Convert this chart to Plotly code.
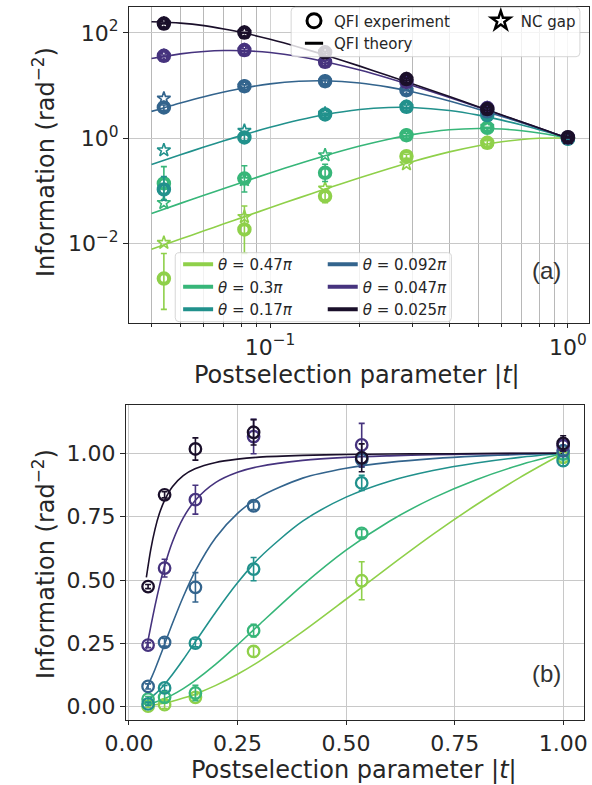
import plotly.graph_objects as go

W, H = 592, 785

# ---------------- data ----------------
theta_labels = ["0.47", "0.3", "0.17", "0.092", "0.047", "0.025"]

# theory curves, sampled along |t|
t_theory = [0.04, 0.05, 0.06, 0.07, 0.0817, 0.1, 0.125, 0.152, 0.2, 0.25,
            0.3, 0.4, 0.5, 0.6, 0.7, 0.8, 0.9, 1.0]

# panel (a): postselected QFI (theory)
qfi_th_047 = [0.00777, 0.0121, 0.0174, 0.0236, 0.0320, 0.0476, 0.0734, 0.107, 0.177, 0.263,
              0.357, 0.548, 0.719, 0.852, 0.943, 0.992, 1.009, 1.0]
qfi_th_03 = [0.0372, 0.0577, 0.0824, 0.111, 0.149, 0.218, 0.327, 0.459, 0.707, 0.956,
             1.168, 1.442, 1.527, 1.488, 1.384, 1.255, 1.123, 1.0]
qfi_th_017 = [0.316, 0.483, 0.676, 0.890, 1.161, 1.605, 2.206, 2.782, 3.504, 3.828,
              3.827, 3.352, 2.737, 2.199, 1.774, 1.447, 1.195, 1.0]
qfi_th_0092 = [3.22, 4.65, 6.12, 7.51, 8.97, 10.73, 12.03, 12.29, 11.14, 9.31,
               7.59, 5.08, 3.55, 2.58, 1.96, 1.53, 1.22, 1.0]
qfi_th_0047 = [32.4, 39.8, 44.2, 46.1, 45.7, 42.2, 35.5, 28.6, 19.6, 13.7,
               9.98, 5.91, 3.87, 2.73, 2.02, 1.55, 1.23, 1.0]
qfi_th_0025 = [162, 153, 137, 118, 99.1, 75.3, 53.2, 38.2, 23.3, 15.3,
               10.8, 6.15, 3.96, 2.76, 2.03, 1.56, 1.23, 1.0]

# panel (b): information per trial (theory)
info_th_047 = [0.0035, 0.0055, 0.0079, 0.0108, 0.0146, 0.0218, 0.0339, 0.0496, 0.0842, 0.128,
               0.179, 0.296, 0.424, 0.554, 0.680, 0.797, 0.904, 1.0]
info_th_03 = [0.0077, 0.0120, 0.0172, 0.0233, 0.0316, 0.0467, 0.0715, 0.103, 0.168, 0.244,
              0.324, 0.480, 0.618, 0.732, 0.823, 0.896, 0.954, 1.0]
info_th_017 = [0.0225, 0.0347, 0.0493, 0.0661, 0.0880, 0.127, 0.186, 0.254, 0.374, 0.489,
               0.587, 0.732, 0.827, 0.890, 0.932, 0.962, 0.984, 1.0]
info_th_0092 = [0.0717, 0.108, 0.148, 0.192, 0.245, 0.328, 0.434, 0.533, 0.668, 0.763,
                0.827, 0.902, 0.941, 0.964, 0.979, 0.989, 0.995, 1.0]
info_th_0047 = [0.228, 0.315, 0.399, 0.475, 0.553, 0.650, 0.745, 0.813, 0.885, 0.925,
                0.948, 0.972, 0.984, 0.990, 0.994, 0.997, 0.999, 1.0]
info_th_0025 = [0.510, 0.619, 0.701, 0.762, 0.813, 0.868, 0.912, 0.939, 0.964, 0.977,
                0.985, 0.992, 0.995, 0.997, 0.998, 0.999, 1.0, 1.0]

# experiment
t_exp = [0.044, 0.082, 0.153, 0.287, 0.536, 1.0]

qfi_exp_047 = [0.00216, 0.0185, 0.0793, 0.455, 0.815, 0.99]
qfi_up_047 = [0.0043, 0.033, 0.02, 0.04, 0.12, 0.02]
qfi_dn_047 = [0.0016, 0.012, 0.02, 0.04, 0.12, 0.02]
qfi_exp_03 = [0.138, 0.171, 0.220, 1.14, 1.574, 1.0]
qfi_up_03 = [0.15, 0.128, 0.10, 0.09, 0.035, 0.02]
qfi_dn_03 = [0.07, 0.076, 0.07, 0.09, 0.035, 0.02]
qfi_exp_017 = [0.106, 1.03, 2.82, 3.94, 2.74, 0.97]
qfi_up_017 = [0.08, 0.13, 0.16, 0.31, 0.09, 0.02]
qfi_dn_017 = [0.04, 0.13, 0.16, 0.31, 0.09, 0.02]
qfi_exp_0092 = [3.82, 9.70, 12.08, 8.15, 3.24, 1.01]
qfi_err_0092 = [0.44, 0.55, 1.33, 0.15, 0.1, 0.02]
qfi_exp_0047 = [36.6, 46.9, 28.1, 11.7, 3.73, 1.03]
qfi_err_0047 = [1.4, 2.9, 2.0, 0.78, 0.29, 0.02]
qfi_exp_0025 = [150, 101, 42.7, 13.2, 3.56, 1.04]
qfi_err_0025 = [2.3, 1.5, 1.8, 0.6, 0.19, 0.03]

nc_gap_047 = [0.0103, 0.032, 0.111, 0.321, 0.815, 1.0]
nc_gap_03 = [0.059, 0.16, 0.475, 1.14, 1.64, 1.0]
nc_gap_017 = [0.59, 1.38, 2.94, 3.94, 2.74, 1.0]
nc_gap_0092 = [5.66, 9.70, 12.08, 8.15, 3.24, 1.0]
nc_gap_0047 = [36.6, 46.9, 28.1, 11.7, 3.73, 1.0]
nc_gap_0025 = [150, 101, 42.7, 13.2, 3.56, 1.0]

info_exp_047 = [0.002, 0.008, 0.037, 0.218, 0.497, 0.984]
info_err_047 = [0.005, 0.015, 0.01, 0.02, 0.075, 0.02]
info_exp_03 = [0.030, 0.037, 0.054, 0.300, 0.684, 0.997]
info_err_03 = [0.01, 0.02, 0.03, 0.025, 0.015, 0.02]
info_exp_017 = [0.011, 0.074, 0.251, 0.543, 0.883, 0.971]
info_err_017 = [0.006, 0.01, 0.015, 0.046, 0.03, 0.02]
info_exp_0092 = [0.080, 0.254, 0.471, 0.793, 0.975, 1.01]
info_err_0092 = [0.01, 0.015, 0.058, 0.015, 0.03, 0.02]
info_exp_0047 = [0.243, 0.547, 0.817, 1.066, 1.033, 1.03]
info_err_0047 = [0.01, 0.035, 0.057, 0.068, 0.085, 0.02]
info_exp_0025 = [0.474, 0.836, 1.017, 1.083, 0.982, 1.039]
info_err_0025 = [0.008, 0.012, 0.044, 0.05, 0.055, 0.03]

# ---------------- styles ----------------
colors = ["#8fd04a", "#37b679", "#21918c", "#33648d", "#46337e", "#1a0f2a"]
FONT = "DejaVu Sans"
TXT = "#262626"

qfi_th = [qfi_th_047, qfi_th_03, qfi_th_017, qfi_th_0092, qfi_th_0047, qfi_th_0025]
info_th = [info_th_047, info_th_03, info_th_017, info_th_0092, info_th_0047, info_th_0025]
qfi_exp = [qfi_exp_047, qfi_exp_03, qfi_exp_017, qfi_exp_0092, qfi_exp_0047, qfi_exp_0025]
qfi_up = [qfi_up_047, qfi_up_03, qfi_up_017, qfi_err_0092, qfi_err_0047, qfi_err_0025]
qfi_dn = [qfi_dn_047, qfi_dn_03, qfi_dn_017, qfi_err_0092, qfi_err_0047, qfi_err_0025]
nc_gap = [nc_gap_047, nc_gap_03, nc_gap_017, nc_gap_0092, nc_gap_0047, nc_gap_0025]
info_exp = [info_exp_047, info_exp_03, info_exp_017, info_exp_0092, info_exp_0047, info_exp_0025]
info_err = [info_err_047, info_err_03, info_err_017, info_err_0092, info_err_0047, info_err_0025]

fig = go.Figure()

for i in range(6):
    c = colors[i]
    fig.add_trace(go.Scatter(x=t_theory, y=qfi_th[i], mode="lines", xaxis="x", yaxis="y",
                             line=dict(color=c, width=1.6, shape="spline", smoothing=0.8),
                             showlegend=False, hoverinfo="skip"))
    fig.add_trace(go.Scatter(x=t_theory, y=info_th[i], mode="lines", xaxis="x2", yaxis="y2",
                             line=dict(color=c, width=1.6, shape="spline", smoothing=0.8),
                             showlegend=False, hoverinfo="skip"))

for i in range(6):
    c = colors[i]
    fig.add_trace(go.Scatter(
        x=t_exp, y=nc_gap[i], mode="markers", xaxis="x", yaxis="y",
        marker=dict(symbol="star-open", size=10, color=c, line=dict(width=1.6, color=c)),
        showlegend=False))
    fig.add_trace(go.Scatter(
        x=t_exp, y=qfi_exp[i], mode="markers", xaxis="x", yaxis="y",
        marker=dict(symbol="circle-open", size=10.5, color=c, line=dict(width=4, color=c)),
        error_y=dict(type="data", array=qfi_up[i], arrayminus=qfi_dn[i], symmetric=False,
                     color=c, thickness=1.6, width=3),
        showlegend=False))
    fig.add_trace(go.Scatter(
        x=t_exp, y=info_exp[i], mode="markers", xaxis="x2", yaxis="y2",
        marker=dict(symbol="circle-open", size=11.5, color=c, line=dict(width=2.3, color=c)),
        error_y=dict(type="data", array=info_err[i], color=c, thickness=1.6, width=3),
        showlegend=False))

# legend-only entries
for i in range(6):
    fig.add_trace(go.Scatter(x=[None], y=[None], mode="lines", xaxis="x", yaxis="y",
                             line=dict(color=colors[i], width=4),
                             name=f"<i>θ</i> = {theta_labels[i]}<i>π</i>",
                             legend="legend" if i < 3 else "legend2"))
fig.add_trace(go.Scatter(x=[None], y=[None], mode="markers", xaxis="x", yaxis="y",
                         marker=dict(symbol="circle-open", size=14, color="black", line=dict(width=3)),
                         name="QFI experiment", legend="legend3"))
fig.add_trace(go.Scatter(x=[None], y=[None], mode="markers", xaxis="x", yaxis="y",
                         marker=dict(symbol="line-ew", size=13, color="black",
                                     line=dict(width=3, color="black")),
                         name="QFI theory", legend="legend3"))
fig.add_trace(go.Scatter(x=[None], y=[None], mode="markers", xaxis="x", yaxis="y",
                         marker=dict(symbol="star-open", size=14, color="black", line=dict(width=2.5)),
                         name="NC gap", legend="legend4"))


def px_x(x):
    return x / W


def px_y(y):
    return 1 - y / H


def rounded_box(x0, y0, x1, y1, r=4):
    rx, ry = r / W, r / H
    X0, X1, Y0, Y1 = px_x(x0), px_x(x1), px_y(y0), px_y(y1)
    return (f"M {X0+rx},{Y0} L {X1-rx},{Y0} Q {X1},{Y0} {X1},{Y0-ry} "
            f"L {X1},{Y1+ry} Q {X1},{Y1} {X1-rx},{Y1} "
            f"L {X0+rx},{Y1} Q {X0},{Y1} {X0},{Y1+ry} "
            f"L {X0},{Y0-ry} Q {X0},{Y0} {X0+rx},{Y0} Z")


tickfont = dict(family=FONT, size=22, color=TXT)
axis_common = dict(showline=True, mirror=True, linecolor=TXT, linewidth=1.4,
                   ticks="outside", tickwidth=1.2, tickcolor=TXT,
                   tickfont=tickfont, zeroline=False, showgrid=True)

legend_common = dict(bgcolor="rgba(0,0,0,0)", borderwidth=0, xanchor="left", yanchor="top",
                     font=dict(family=FONT, size=15, color=TXT), tracegroupgap=0,
                     orientation="v")

title_font = dict(family=FONT, size=24, color=TXT)

fig.update_layout(
    width=W, height=H, margin=dict(l=0, r=0, t=0, b=0),
    paper_bgcolor="white", plot_bgcolor="white",
    xaxis=dict(type="log", domain=[112 / W, 1.0], range=[-1.4727, 0.0707], anchor="y",
               tickvals=[0.1, 1], ticktext=["10<sup>−1</sup>", "10<sup>0</sup>"],
               gridcolor="#d2d2d2", gridwidth=1, ticklen=4,
               minor=dict(tickmode="array",
                          tickvals=[0.04, 0.05, 0.06, 0.07, 0.08, 0.09,
                                    0.2, 0.3, 0.4, 0.5, 0.6, 0.7, 0.8, 0.9],
                          ticks="outside", ticklen=2.5, tickcolor=TXT, tickwidth=1,
                          showgrid=True, gridcolor="#b8b8b8", gridwidth=1.4),
               **axis_common),
    yaxis=dict(type="log", domain=[1 - 323 / H, 1 - 7 / H], range=[-3.51, 2.49], anchor="x",
               tickvals=[0.01, 1, 100], ticklen=5,
               ticktext=["10<sup>−2</sup>", "10<sup>0</sup>", "10<sup>2</sup>"],
               gridcolor="#c8c8c8", gridwidth=1.2, **axis_common),
    xaxis2=dict(domain=[108.8 / W, 586.7 / W], range=[-0.0064, 1.0478], anchor="y2",
                tickvals=[0, 0.25, 0.5, 0.75, 1.0], ticklen=4,
                ticktext=["0.00", "0.25", "0.50", "0.75", "1.00"],
                gridcolor="#c8c8c8", gridwidth=1, **axis_common),
    yaxis2=dict(domain=[1 - 719.8 / H, 1 - 405 / H], range=[-0.0517, 1.1906], anchor="x2",
                tickvals=[0, 0.25, 0.5, 0.75, 1.0], ticklen=5,
                ticktext=["0.00", "0.25", "0.50", "0.75", "1.00"],
                gridcolor="#c8c8c8", gridwidth=1, **axis_common),
    legend=dict(x=px_x(163), y=px_y(248), **legend_common),
    legend2=dict(x=px_x(314), y=px_y(248), **legend_common),
    legend3=dict(x=px_x(284), y=px_y(4.5), **legend_common),
    legend4=dict(x=px_x(479), y=px_y(4.5), **legend_common),
    shapes=[
        dict(type="path", xref="paper", yref="paper", layer="above",
             path=rounded_box(160, 252.7, 448.3, 321.7),
             fillcolor="rgba(255,255,255,0.8)", line=dict(color="rgba(204,204,204,0.8)", width=1)),
        dict(type="path", xref="paper", yref="paper", layer="above",
             path=rounded_box(281, 7.3, 582.5, 56.7),
             fillcolor="rgba(255,255,255,0.8)", line=dict(color="rgba(204,204,204,0.8)", width=1)),
    ],
    annotations=[
        dict(text="Postselection parameter |<i>t</i>|", x=px_x(350), y=px_y(375),
             xref="paper", yref="paper", showarrow=False, xanchor="center", yanchor="middle",
             font=title_font),
        dict(text="Postselection parameter |<i>t</i>|", x=px_x(347), y=0.0,
             xref="paper", yref="paper", showarrow=False, xanchor="center", yanchor="bottom",
             font=title_font, borderpad=0),
        dict(text="Information (rad<sup>−2</sup>)", x=px_x(23), y=px_y(162), textangle=-90,
             xref="paper", yref="paper", showarrow=False, xanchor="center", yanchor="middle",
             font=title_font),
        dict(text="Information (rad<sup>−2</sup>)", x=px_x(23), y=px_y(564), textangle=-90,
             xref="paper", yref="paper", showarrow=False, xanchor="center", yanchor="middle",
             font=title_font),
        dict(text="(a)", x=px_x(548), y=px_y(271), xref="paper", yref="paper", showarrow=False,
             xanchor="center", yanchor="middle",
             font=dict(family="Liberation Sans", size=24, color="#333333")),
        dict(text="(b)", x=px_x(548), y=px_y(673), xref="paper", yref="paper", showarrow=False,
             xanchor="center", yanchor="middle",
             font=dict(family="Liberation Sans", size=24, color="#333333")),
    ],
)

fig.write_html(
    "out.html",
    config={"displayModeBar": False},
    post_script="document.body.style.margin='0';document.body.style.overflow='hidden';",
)
